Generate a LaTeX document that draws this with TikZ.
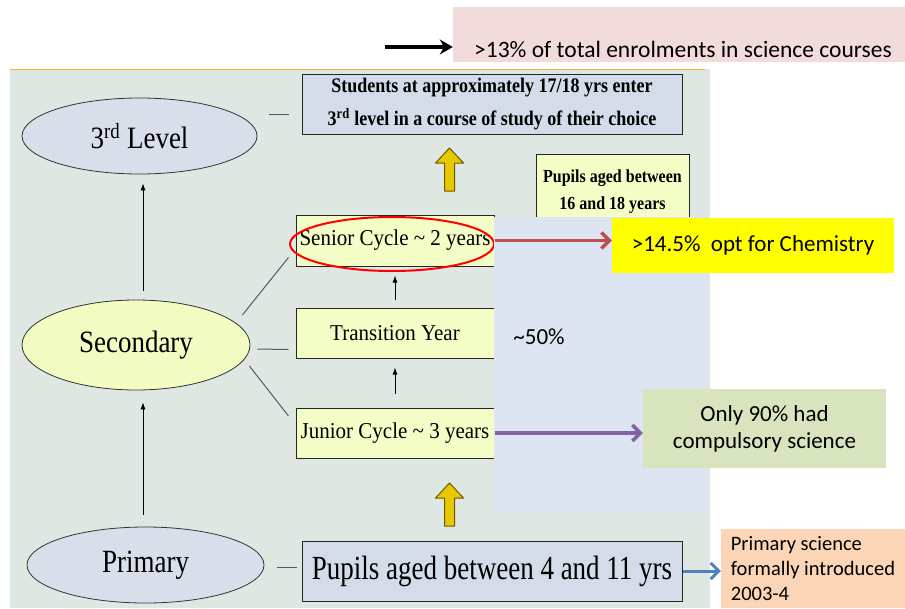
\documentclass[tikz,border=0pt]{standalone}
\usepackage{graphicx}
\usepackage{fontspec}
\setmainfont{Liberation Serif}
\newfontfamily\calibri{Carlito}
\usetikzlibrary{calc, arrows.meta, shapes.geometric}

\definecolor{texture}{HTML}{DFE7E3}
\definecolor{goldline}{HTML}{E6B833}
\definecolor{ellblue}{HTML}{D9DFEA}
\definecolor{ellyellow}{HTML}{F2FBC2}
\definecolor{boxblue}{HTML}{D3DCE8}
\definecolor{cyclefill}{HTML}{F3FDC6}
\definecolor{panelblue}{HTML}{DCE5F1}
\definecolor{chemyellow}{HTML}{FFFF00}
\definecolor{notegreen}{HTML}{D7E4BD}
\definecolor{noteorange}{HTML}{FBD5B5}
\definecolor{notepink}{HTML}{F2DCDB}
\definecolor{redarrow}{HTML}{C0504D}
\definecolor{purplearrow}{HTML}{8064A2}
\definecolor{bluearrow}{HTML}{4F81BD}
\definecolor{arrowgold}{HTML}{E8C800}
\definecolor{arrowedge}{HTML}{6B5A00}

\newcommand{\tallstr}[2][1.15]{\scalebox{1}[#1]{#2}}

\begin{document}
\begin{tikzpicture}[x=1pt, y=-1pt,
	ell/.style={ellipse, draw=black!80, line width=0.8pt, inner sep=0pt, font=\fontsize{27}{32}\selectfont},
	box/.style={rectangle, draw=black!85, line width=1pt, inner sep=0pt, align=center},
	note/.style={rectangle, inner sep=0pt, align=center, font=\calibri\fontsize{23}{27}\selectfont},
	link/.style={draw=black!65, line width=1pt},
	thinarr/.style={-{Latex[length=7pt,width=5pt]}, line width=0.8pt},
	fatarr/.style={-{Straight Barb[length=8pt,width=16pt]}, line width=3.5pt},
	blockarr/.style={fill=arrowgold, draw=arrowedge, line width=1pt, line join=round}]
		\def\cyclew{198};
		\def\cycleh{50};
		
		\useasboundingbox (0,0) rectangle (905,608);
		\fill [texture] (10,69) rectangle (710,608);
		\draw [goldline, line width=1pt] (10,69) -- (705,69);
		
		\node [ell, fill=ellblue, minimum width=235pt, minimum height=76pt] (third) at (139.5,136) {\tallstr{3\textsuperscript{rd} Level}};
		\node [ell, fill=ellyellow, minimum width=228pt, minimum height=90pt] (second) at (136,345) {\tallstr{Secondary}};
		\node [ell, fill=ellblue, minimum width=237pt, minimum height=76pt] (primary) at (145.5,565) {\tallstr[1.2]{Primary}};
		
		\node [box, fill=boxblue, minimum width=380pt, minimum height=60pt, font=\bfseries\fontsize{18}{33}\selectfont] (students) at (492,104) {\tallstr{Students at approximately 17/18 yrs enter}\\\tallstr{3\textsuperscript{rd} level in a course of study of their choice}};
		\node [box, fill=cyclefill, minimum width=\cyclew pt, minimum height=51pt, font=\fontsize{21}{25}\selectfont] (senior) at (395,240.5) {\tallstr[1.08]{Senior Cycle \textasciitilde{} 2 years}};
		\node [box, fill=cyclefill, minimum width=\cyclew pt, minimum height=\cycleh pt, font=\fontsize{21}{25}\selectfont] (transition) at (395,333) {\tallstr[1.08]{Transition Year}};
		\node [box, fill=cyclefill, minimum width=\cyclew pt, minimum height=\cycleh pt, font=\fontsize{21}{25}\selectfont] (junior) at (395,433) {\tallstr[1.08]{Junior Cycle \textasciitilde{} 3 years}};
		\node [box, fill=cyclefill, minimum width=153pt, minimum height=76pt, font=\bfseries\fontsize{16}{27}\selectfont] (ages) at (612.5,192) {\tallstr{Pupils aged between}\\\tallstr{16 and 18 years}};
		\node [box, fill=boxblue, minimum width=380pt, minimum height=60pt, font=\fontsize{27}{32}\selectfont] (primbox) at (492,571) {\tallstr[1.25]{Pupils aged between 4 and 11 yrs}};
		
		\draw [red, line width=2pt] ($(senior)+(-3,3.5)$) ellipse [x radius=102pt, y radius=27pt];
		
		\draw [link] ($(third.east)+(12,-22)$) -- ($(students.west)+(-13,10)$);
		\draw [link] ($(second.east)+(-8,-30)$) -- ($(senior.south west)+(-7,-9)$);
		\draw [link] ($(second.east)+(7,4)$) -- ($(transition.south west)+(-7,-9)$);
		\draw [link] ($(second.east)+(-1,21)$) -- ($(junior.west)+(-7,-17)$);
		\draw [link] ($(primary.east)+(13,2)$) -- ($(primbox.west)+(-5,-4)$);
		
		\coordinate (axis) at (143,0);
		\draw [thinarr, shorten <=9pt, shorten >=9pt] (second.north -| axis) -- (third.south -| axis);
		\draw [thinarr, shorten <=12pt, shorten >=12pt] (primary.north -| axis) -- (second.south -| axis);
		\draw [thinarr, shorten <=14pt, shorten >=9pt] (junior.north) -- (transition.south);
		\draw [thinarr, shorten <=8pt, shorten >=9pt] (transition.north) -- (senior.south);
		
		\foreach \ya in {148,483}
			\filldraw [blockarr] (449.5,\ya) -- ++(14,15) -- ++(-9,0) -- ++(0,28) -- ++(-10,0) -- ++(0,-28) -- ++(-9,0) -- cycle;
		
		\fill [panelblue] (494,217) rectangle (707,513);
		
		\node [note, fill=chemyellow, minimum width=282pt, minimum height=55pt] (chem) at (753,245) {>14.5\%\ \ opt for Chemistry};
		\node [note, fill=notegreen, minimum width=243pt, minimum height=79pt] (only) at (764.5,428.5) {Only 90\% had\\compulsory science};
		\node [note] (half) at (539,337) {\textasciitilde50\%};
		\node [note, fill=noteorange, minimum width=184pt, minimum height=79pt, align=left, font=\calibri\fontsize{20.5}{25}\selectfont] (intro) at (813,568.5) {Primary science\\formally introduced\\2003-4};
		\node [note, fill=notepink, minimum width=452pt, text height=50pt, text depth=5pt, anchor=north, font=\calibri\fontsize{23.5}{27}\selectfont] (pink) at (679,7) {\hspace{8pt}>13\% of total enrolments in science courses};
		
		\draw [fatarr, draw=redarrow] (senior.east) -- (senior.east -| chem.west);
		\draw [fatarr, draw=purplearrow] (junior.east) -- (junior.east -| only.west);
		\draw [fatarr, draw=bluearrow, line width=3pt] (primbox.east) -- (primbox.east -| intro.west);
		
		\coordinate (tail) at (385,47);
		\draw [-{Stealth[length=13pt,width=15pt]}, line width=3.2pt] (tail) -- (tail -| pink.west);
	\end{tikzpicture}
\end{document}
